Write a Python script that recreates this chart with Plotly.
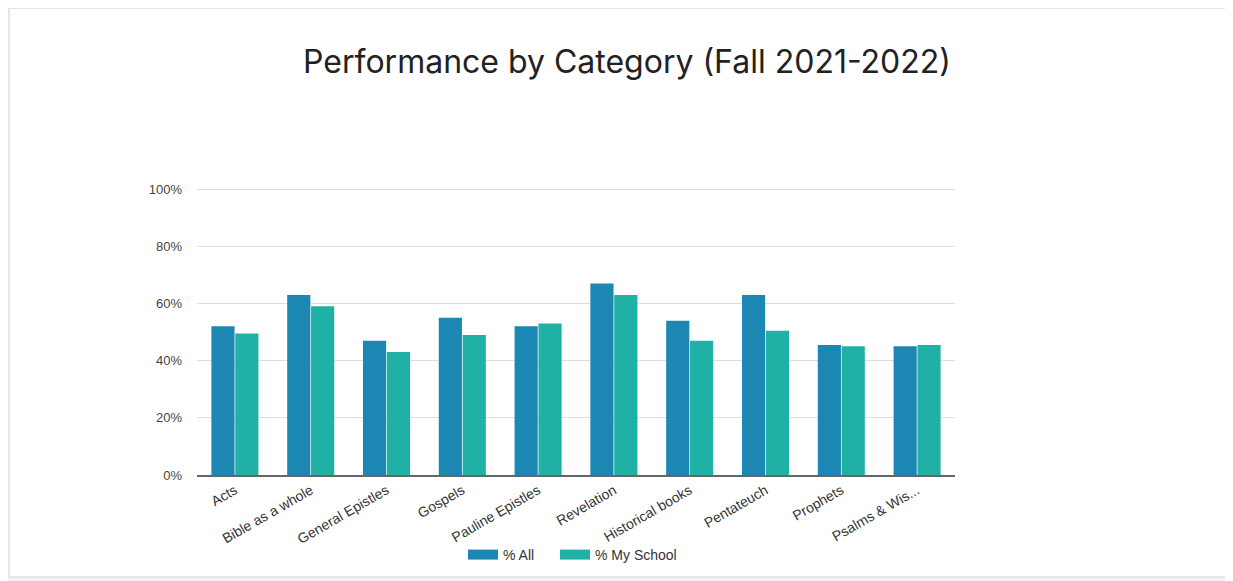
import plotly.graph_objects as go

categories = ["Acts", "Bible as a whole", "General Epistles", "Gospels", "Pauline Epistles",
              "Revelation", "Historical books", "Pentateuch", "Prophets", "Psalms & Wis..."]
pct_all = [52, 63, 47, 55, 52, 67, 54, 63, 45.5, 45]
pct_school = [49.5, 59, 43, 49, 53, 63, 47, 50.5, 45, 45.5]
series_names = ["% All", "% My School"]
series_colors = ["#1b87b2", "#1fb0a6"]
y_ticks = [0, 20, 40, 60, 80, 100]
y_tick_text = ["0%", "20%", "40%", "60%", "80%", "100%"]

# figure placed at (8,8) in page due to body margin
W, H = 1225, 573
L, R, T, B = 189, 278, 180, 106
PW, PH = W - L - R, H - T - B

fig = go.Figure()
legend_ids = ["legend", "legend2"]
for vals, name, col, lg in zip([pct_all, pct_school], series_names, series_colors, legend_ids):
    fig.add_trace(go.Bar(x=categories, y=vals, name=name, marker_color=col,
                         marker_line_width=0, legendgroup=name, showlegend=False))
    # legend entry drawn as a wide rectangle swatch
    fig.add_trace(go.Scatter(x=[None], y=[None], mode="lines", name=name,
                             line=dict(color=col, width=12), legendgroup=name,
                             showlegend=True, hoverinfo="skip", legend=lg))

leg_common = dict(orientation="h", xanchor="left", y=(467 - 547) / PH, yanchor="middle",
                  font=dict(size=14, color="#333333"), itemwidth=30,
                  bgcolor="rgba(0,0,0,0)")

fig.update_layout(
    width=W, height=H,
    paper_bgcolor="white", plot_bgcolor="white",
    margin=dict(l=L, r=R, t=T, b=B, autoexpand=False),
    barmode="group", bargap=0.37, bargroupgap=0.03,
    title=dict(text="Performance by Category (Fall 2021-2022)", x=619 / W, xanchor="center",
               y=1 - 54 / H, yanchor="middle",
               font=dict(family="Inter, Lato, sans-serif", size=32, color="#222222")),
    font=dict(family="Liberation Sans, Arial, sans-serif", size=13, color="#444444"),
    legend=dict(x=(455 - L) / PW, **leg_common),
    legend2=dict(x=(547 - L) / PW, **leg_common),
    showlegend=True,
)
fig.update_yaxes(range=[0, 100.4], tickvals=y_ticks, ticktext=y_tick_text, showgrid=True,
                 gridcolor="#dddddd", gridwidth=1, zeroline=False, showline=False,
                 ticks="", ticklabelstandoff=14)
fig.update_xaxes(tickangle=-30, showline=True, linecolor="#666666", linewidth=2,
                 ticks="", showgrid=False, tickfont=dict(size=14, color="#333333"))

# card border (open to the right edge)
fig.add_shape(type="rect", xref="paper", yref="paper",
              x0=(1 - L) / PW, x1=(W + 20 - L) / PW,
              y0=(467 - 569) / PH, y1=(467 - 0) / PH,
              line=dict(color="#e6e6e6", width=2), fillcolor="rgba(0,0,0,0)", layer="below")
fig.add_shape(type="rect", xref="paper", yref="paper",
              x0=(-10 - L) / PW, x1=(W + 10 - L) / PW,
              y0=(467 - H - 10) / PH, y1=(467 - 570) / PH,
              line=dict(width=0), fillcolor="#f4f4f4", layer="below")

fig.write_html("out.html")
